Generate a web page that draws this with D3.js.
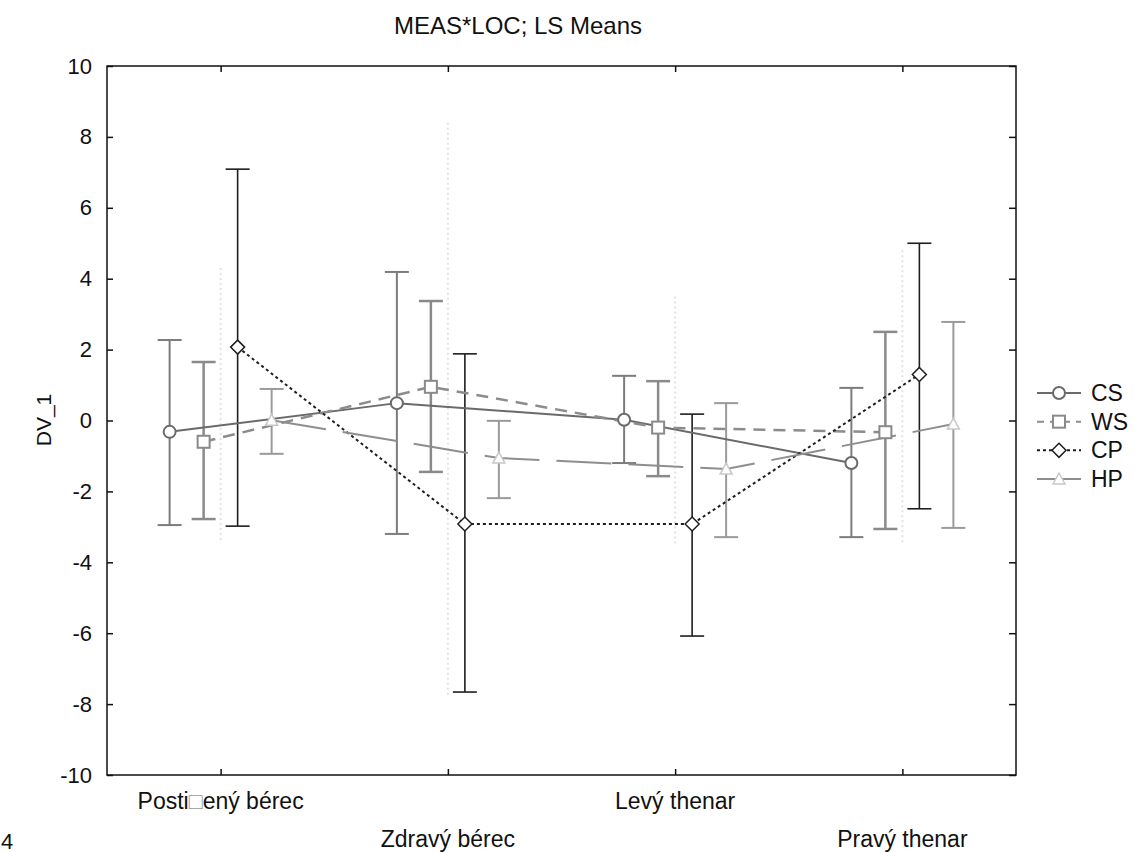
<!DOCTYPE html>
<html lang="en">
<head>
<meta charset="utf-8">
<title>MEAS*LOC; LS Means</title>
<script src="https://d3js.org/d3.v7.min.js"></script>
<style>
  body { margin: 0; background: #fff; }
  svg text { font-family: "Liberation Sans", Arial, sans-serif; fill: #111; }
</style>
</head>
<body>
<svg id="svg" width="1135" height="852"></svg>
<script>
// categories and series
var categories = ["Posti\u25A1ený bérec", "Zdravý bérec", "Levý thenar", "Pravý thenar"];
var seriesNames = ["CS", "WS", "CP", "HP"];
var yTicks = [-10, -8, -6, -4, -2, 0, 2, 4, 6, 8, 10];

// LS means and confidence limits
var csMean  = [-0.32, 0.49, 0.02, -1.2];
var csUpper = [2.27, 4.19, 1.26, 0.92];
var csLower = [-2.95, -3.2, -1.2, -3.29];

var wsMean  = [-0.6, 0.95, -0.2, -0.33];
var wsUpper = [1.65, 3.37, 1.11, 2.5];
var wsLower = [-2.78, -1.45, -1.57, -3.06];

var cpMean  = [2.07, -2.92, -2.92, 1.3];
var cpUpper = [7.09, 1.88, 0.18, 5.0];
var cpLower = [-2.98, -7.66, -6.08, -2.49];

var hpMean  = [0.01, -1.06, -1.37, -0.1];
var hpUpper = [0.89, -0.01, 0.49, 2.78];
var hpLower = [-0.94, -2.19, -3.29, -3.03];

// faint dotted leftovers at each category
var ghostUpper = [4.3, 8.4, 3.5, 4.8];
var ghostLower = [-3.46, -7.8, -3.46, -3.46];

var svg = d3.select("#svg");
var pLeft = 107, pRight = 1016, pTop = 66, pBottom = 775;

var x = d3.scalePoint().domain(categories).range([pLeft, pRight]).padding(0.5);
var inner = d3.scaleBand().domain(seriesNames).range([-68, 68]);
var y = d3.scaleLinear().domain([-10, 10]).range([pBottom, pTop]);

// styles per series
var styles = {
  CS: {line: "#6a6a6a", dash: null, bar: "#7c7c7c", barW: 2, lineW: 2},
  WS: {line: "#8c8c8c", dash: "12,8", bar: "#8a8a8a", barW: 2.5, lineW: 2.5},
  CP: {line: "#1e1e1e", dash: "3,3", bar: "#1e1e1e", barW: 1.6, lineW: 2},
  HP: {line: "#8e8e8e", dash: "55,17", bar: "#9a9a9a", barW: 2, lineW: 2}
};

var series = [
  {name: "CS", mean: csMean, up: csUpper, lo: csLower},
  {name: "WS", mean: wsMean, up: wsUpper, lo: wsLower},
  {name: "CP", mean: cpMean, up: cpUpper, lo: cpLower},
  {name: "HP", mean: hpMean, up: hpUpper, lo: hpLower}
];

function px(s, i) { return x(categories[i]) + inner(s.name) + inner.bandwidth() / 2; }

// faint dotted verticals
svg.append("g").selectAll("line").data(categories).enter().append("line")
  .attr("x1", function(d) { return x(d); }).attr("x2", function(d) { return x(d); })
  .attr("y1", function(d, i) { return y(ghostUpper[i]); })
  .attr("y2", function(d, i) { return y(ghostLower[i]); })
  .attr("stroke", "#e2e2e2").attr("stroke-width", 2).attr("stroke-dasharray", "2,3");

// error bars
series.forEach(function(s) {
  var st = styles[s.name];
  var g = svg.append("g").attr("stroke", st.bar).attr("stroke-width", st.barW).attr("fill", "none");
  s.mean.forEach(function(m, i) {
    var cx = px(s, i);
    g.append("line").attr("x1", cx).attr("x2", cx).attr("y1", y(s.up[i])).attr("y2", y(s.lo[i]));
    g.append("line").attr("x1", cx - 12).attr("x2", cx + 12).attr("y1", y(s.up[i])).attr("y2", y(s.up[i]));
    g.append("line").attr("x1", cx - 12).attr("x2", cx + 12).attr("y1", y(s.lo[i])).attr("y2", y(s.lo[i]));
  });
});

// connecting lines
var lineGen = d3.line().x(function(d) { return d.x; }).y(function(d) { return d.y; });
series.forEach(function(s) {
  var st = styles[s.name];
  var pts = s.mean.map(function(m, i) { return {x: px(s, i), y: y(m)}; });
  svg.append("path").attr("d", lineGen(pts)).attr("fill", "none")
    .attr("stroke", st.line).attr("stroke-width", st.lineW)
    .attr("stroke-dasharray", st.dash);
});

// markers
function marker(g, name, cx, cy) {
  if (name === "CS") {
    g.append("circle").attr("cx", cx).attr("cy", cy).attr("r", 6)
      .attr("fill", "#fff").attr("stroke", "#6a6a6a").attr("stroke-width", 2);
  } else if (name === "WS") {
    g.append("rect").attr("x", cx - 6).attr("y", cy - 6).attr("width", 12).attr("height", 12)
      .attr("fill", "#fff").attr("stroke", "#8a8a8a").attr("stroke-width", 2);
  } else if (name === "CP") {
    g.append("path").attr("d", "M" + cx + "," + (cy - 7) + "L" + (cx + 7) + "," + cy + "L" + cx + "," + (cy + 7) + "L" + (cx - 7) + "," + cy + "Z")
      .attr("fill", "#fff").attr("stroke", "#1e1e1e").attr("stroke-width", 1.5);
  } else {
    g.append("path").attr("d", "M" + cx + "," + (cy - 6) + "L" + (cx + 6) + "," + (cy + 5) + "L" + (cx - 6) + "," + (cy + 5) + "Z")
      .attr("fill", "#fff").attr("stroke", "#c8c8c8").attr("stroke-width", 1.5);
  }
}
var mg = svg.append("g");
series.forEach(function(s) {
  s.mean.forEach(function(m, i) { marker(mg, s.name, px(s, i), y(m)); });
});

// frame and axes
svg.append("rect").attr("x", pLeft).attr("y", pTop).attr("width", pRight - pLeft).attr("height", pBottom - pTop)
  .attr("fill", "none").attr("stroke", "#111").attr("stroke-width", 1.5);

var yAxis = svg.append("g").attr("transform", "translate(" + pLeft + ",0)")
  .call(d3.axisLeft(y).tickValues(yTicks).tickSize(-6).tickPadding(15)
    .tickFormat(function(d) { return String(d); }));
yAxis.select(".domain").remove();
yAxis.selectAll("line").attr("stroke", "#111").attr("stroke-width", 1.5);
yAxis.selectAll("text").attr("font-size", 22).attr("fill", "#111")
  .attr("font-family", "Liberation Sans, Arial, sans-serif");

var yAxisR = svg.append("g").attr("transform", "translate(" + pRight + ",0)")
  .call(d3.axisRight(y).tickValues(yTicks).tickSize(-7).tickFormat(""));
yAxisR.select(".domain").remove();
yAxisR.selectAll("line").attr("stroke", "#111").attr("stroke-width", 1.5);

var xTop = svg.append("g").attr("transform", "translate(0," + pTop + ")")
  .call(d3.axisTop(x).tickSize(-6).tickFormat(""));
xTop.select(".domain").remove();
xTop.selectAll("line").attr("stroke", "#111").attr("stroke-width", 1.5);

var xBot = svg.append("g").attr("transform", "translate(0," + pBottom + ")")
  .call(d3.axisBottom(x).tickSize(-6).tickFormat(""));
xBot.select(".domain").remove();
xBot.selectAll("line").attr("stroke", "#111").attr("stroke-width", 1.5);

// category labels, staggered on two rows
var lab = svg.append("g").selectAll("text").data(categories).enter().append("text")
  .attr("x", function(d) { return x(d); })
  .attr("y", function(d, i) { return i % 2 === 0 ? 809 : 847; })
  .attr("text-anchor", "middle").attr("font-size", 23);
lab.each(function(d) {
  var t = d3.select(this);
  var parts = d.split("\u25A1");
  parts.forEach(function(p, k) {
    if (k > 0) t.append("tspan").style("fill", "#9a9a9a").text("\u25A1");
    t.append("tspan").text(p);
  });
});

// titles
svg.append("text").attr("x", 518).attr("y", 34).attr("text-anchor", "middle")
  .attr("font-size", 24).text("MEAS*LOC; LS Means");
svg.append("text").attr("transform", "translate(51,420) rotate(-90)")
  .attr("text-anchor", "middle").attr("font-size", 21).text("DV_1");
svg.append("text").attr("x", 1).attr("y", 849).attr("font-size", 22).text("4");

// legend
var legY = d3.scalePoint().domain(seriesNames).range([393, 479]);
var leg = svg.append("g");
series.forEach(function(s) {
  var st = styles[s.name];
  var ly = legY(s.name);
  leg.append("line").attr("x1", 1037).attr("x2", 1081).attr("y1", ly).attr("y2", ly)
    .attr("stroke", st.line).attr("stroke-width", 2)
    .attr("stroke-dasharray", s.name === "HP" ? null : (s.name === "WS" ? "7,6" : st.dash));
  marker(leg, s.name, 1059, ly);
  leg.append("text").attr("x", 1091).attr("y", ly + 8).attr("font-size", 23).text(s.name);
});
</script>
</body>
</html>
